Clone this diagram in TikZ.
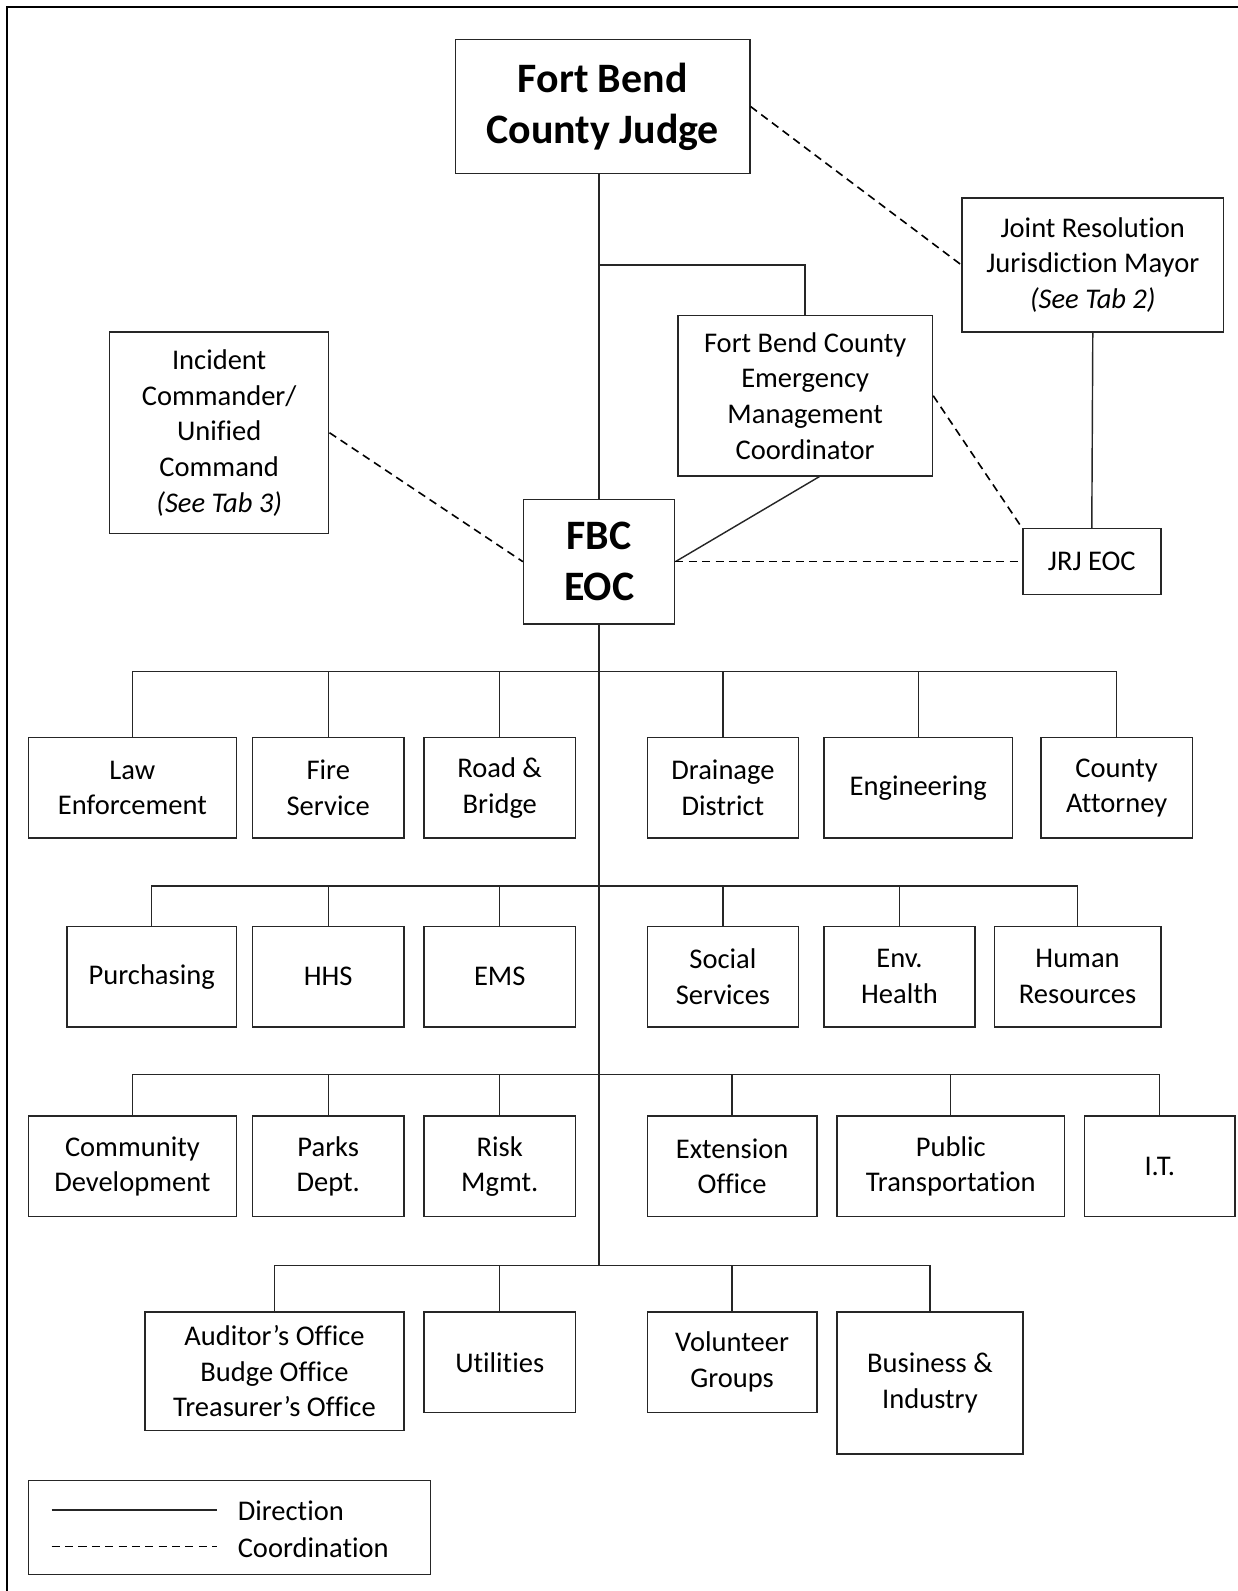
\documentclass[tikz,border=0pt]{standalone}
\usepackage{fontspec}
\setmainfont{Carlito}[Ligatures={NoCommon,NoContextual}, Contextuals=NoAlternate]
\begin{document}
\begin{tikzpicture}[x=0.02cm, y=-0.02cm,
  orgbox/.style 2 args={draw=black!85, line width=0.8pt, align=center, inner sep=0pt,
    minimum width=#1*0.02cm, minimum height=#2*0.02cm, font=\fontsize{16}{20}\selectfont},
  bigbox/.style={font=\fontsize{23.5}{28.5}\selectfont\bfseries},
  direction/.style={draw=black!85, line width=0.8pt},
  coordination/.style={draw=black, line width=0.9pt, dash pattern=on 4.5pt off 3pt}]
  \useasboundingbox (0,0) rectangle (1220,1568);
  \draw[line width=0.9pt] (7,1568) -- (7,7) -- (1220,7);

  % top of the chart
  \node[orgbox={290}{132}, bigbox] (judge) at (594,105) {Fort Bend\\County Judge};
  \node[orgbox={258}{132}] (mayor) at (1077,261) {Joint Resolution\\Jurisdiction Mayor\\\textit{(See Tab 2)}};
  \node[orgbox={216}{199}] (incident) at (216,426.5) {Incident\\Commander/\\Unified\\Command\\\textit{(See Tab 3)}};
  \node[orgbox={251}{158}] (emc) at (793.5,390) {Fort Bend County\\Emergency\\Management\\Coordinator};
  \node[orgbox={149}{123}, bigbox] (eoc) at (590.5,553.5) {FBC\\EOC};
  \node[orgbox={136}{65}] (jrj) at (1076,553.5) {JRJ EOC};

  % departments
  \node[orgbox={205}{99}] (law) at (130.5,776.5) {Law\\Enforcement};
  \node[orgbox={149}{99}] (fire) at (323.5,776.5) {Fire\\Service};
  \node[orgbox={149}{99}] (road) at (492.5,776.5) {Road \&\\Bridge};
  \node[orgbox={149}{99}] (drain) at (712.5,776.5) {Drainage\\District};
  \node[orgbox={186}{99}] (eng) at (905,776.5) {Engineering};
  \node[orgbox={149}{99}] (atty) at (1100.5,776.5) {County\\Attorney};

  \node[orgbox={167}{99}] (purch) at (149.5,962.5) {Purchasing};
  \node[orgbox={149}{99}] (hhs) at (323.5,962.5) {HHS};
  \node[orgbox={149}{99}] (ems) at (492.5,962.5) {EMS};
  \node[orgbox={149}{99}] (social) at (712.5,962.5) {Social\\Services};
  \node[orgbox={149}{99}] (envh) at (886.5,962.5) {Env.\\Health};
  \node[orgbox={164}{99}] (hr) at (1062,962.5) {Human\\Resources};

  \node[orgbox={205}{99}] (commdev) at (130.5,1149.5) {Community\\Development};
  \node[orgbox={149}{99}] (parks) at (323.5,1149.5) {Parks\\Dept.};
  \node[orgbox={149}{99}] (risk) at (492.5,1149.5) {Risk\\Mgmt.};
  \node[orgbox={167}{99}] (ext) at (721.5,1149.5) {Extension\\Office};
  \node[orgbox={224}{99}] (transp) at (937,1149.5) {Public\\Transportation};
  \node[orgbox={148}{99}] (it) at (1143,1149.5) {I.T.};

  \node[orgbox={255}{117}] (audit) at (270.5,1351.5) {Auditor’s Office\\Budge Office\\Treasurer’s Office};
  \node[orgbox={149}{99}] (util) at (492.5,1342.5) {Utilities};
  \node[orgbox={167}{99}] (volun) at (721.5,1342.5) {Volunteer\\Groups};
  \node[orgbox={183}{140}] (biz) at (916.5,1363) {Business \&\\Industry};

  % direction lines
  \coordinate (split) at (590.5,261);
  \coordinate (bus1) at (590.5,662);
  \coordinate (bus2) at (590.5,873);
  \coordinate (bus3) at (590.5,1059);
  \coordinate (bus4) at (590.5,1247);
  \draw[direction] (eoc |- judge.south) -- (eoc.north);
  \draw[direction] (split) -| (emc.north);
  \draw[direction] (emc.-80) -- (eoc.east);
  \draw[direction] (mayor.south) -- (jrj.north);
  \draw[direction] (eoc.south) -- (bus4);
  \draw[direction] (law.north) |- (bus1) -| (atty.north);
  \foreach \n in {fire,road,drain,eng}
    \draw[direction] (\n.north) -- (\n.north |- bus1);
  \draw[direction] (purch.north) |- (bus2) -| (hr.north);
  \foreach \n in {hhs,ems,social,envh}
    \draw[direction] (\n.north) -- (\n.north |- bus2);
  \draw[direction] (commdev.north) |- (bus3) -| (it.north);
  \foreach \n in {parks,risk,ext,transp}
    \draw[direction] (\n.north) -- (\n.north |- bus3);
  \draw[direction] (audit.north) |- (bus4) -| (biz.north);
  \foreach \n in {util,volun}
    \draw[direction] (\n.north) -- (\n.north |- bus4);

  % coordination lines
  \draw[coordination] (judge.east) -- (mayor.west);
  \draw[coordination] (incident.east) -- (eoc.west);
  \draw[coordination] (emc.east) -- (jrj.north west);
  \draw[coordination] (eoc.east) -- (jrj.west);

  % legend
  \node[orgbox={396}{93}] (legend) at (226,1505.5) {};
  \coordinate (dira) at (51,1488);
  \coordinate (dirb) at (214,1488);
  \coordinate (cooa) at (51,1524);
  \coordinate (coob) at (214,1524);
  \draw[direction] (dira) -- (dirb);
  \draw[coordination] (cooa) -- (coob);
  \node[anchor=west, inner sep=0pt, font=\fontsize{16}{20}\selectfont] (dirtext) at (234,1489) {Direction};
  \node[anchor=west, inner sep=0pt, font=\fontsize{16}{20}\selectfont] (cootext) at (234,1525) {Coordination};
\end{tikzpicture}
\end{document}
